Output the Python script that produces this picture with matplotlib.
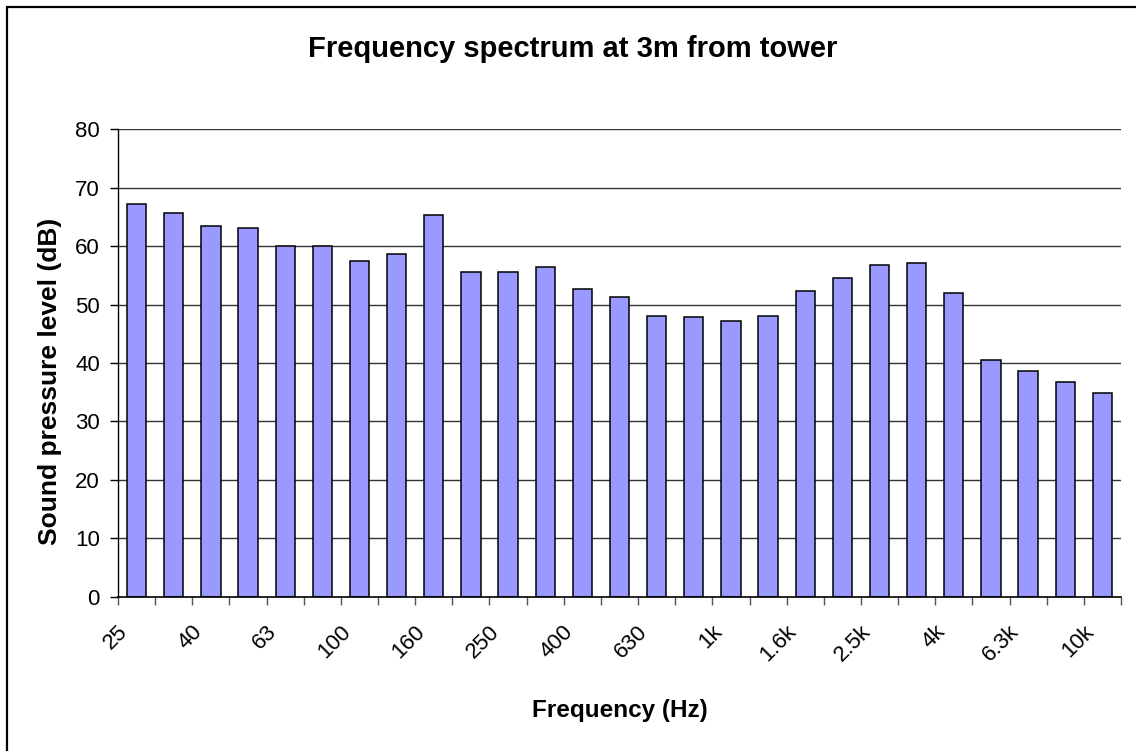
"""
Frequency spectrum bar chart, measured 3 m from the tower.
"""

import matplotlib
matplotlib.use("Agg")
import matplotlib.pyplot as plt
import matplotlib.transforms as mtransforms
import numpy as np
from matplotlib.patches import Rectangle


# One-third octave band centre frequencies
bands = ["25", "31.5", "40", "50", "63", "80", "100", "125", "160", "200",
         "250", "315", "400", "500", "630", "800", "1k", "1.25k", "1.6k",
         "2k", "2.5k", "3.15k", "4k", "5k", "6.3k", "8k", "10k"]

# Sound pressure level per band (dB)
levels = [67.2, 65.6, 63.5, 63.1, 60.0, 60.0, 57.4, 58.7, 65.4, 55.5,
          55.5, 56.5, 52.6, 51.3, 48.1, 47.8, 47.2, 48.1, 52.3, 54.5,
          56.7, 57.1, 52.0, 40.5, 38.6, 36.8, 34.8]

plt.rcParams['font.family'] = ['Liberation Sans', 'DejaVu Sans']

W, H = 1136, 751
fig = plt.figure(figsize=(W / 100, H / 100), dpi=100)

# Axes placed in pixel terms of the reference
left, right, top, bottom = 118, 1121, 129.3, 596.7
ax = fig.add_axes([left / W, 1 - bottom / H, (right - left) / W, (bottom - top) / H])

x = np.arange(len(bands))
ax.bar(x, levels, width=0.52, color="#9999FF", edgecolor="black",
       linewidth=1.1, zorder=3)

ax.set_xlim(-0.5, len(bands) - 0.5)
ax.set_ylim(0, 80)
ax.set_yticks(np.arange(0, 81, 10))

# Horizontal gridlines (not at zero, the axis line sits there)
for yv in range(10, 81, 10):
    ax.axhline(yv, color="#333333", linewidth=1.0, zorder=1)

# Category boundary tick marks, labels on every other category
ax.set_xticks(np.arange(-0.5, len(bands), 1.0), minor=True)
ax.set_xticks(x[::2])
ax.set_xticklabels(bands[::2], rotation=45, ha="right", va="center",
                   rotation_mode="anchor")
ax.tick_params(axis="x", which="major", length=0, pad=0, labelsize=16)
ax.tick_params(axis="x", which="minor", length=6, width=1.0, color="#555555")
ax.tick_params(axis="y", length=6, width=1.0, labelsize=16, pad=7)

# shift rotated labels so their ends sit just left of and below the bar
shift = mtransforms.ScaledTranslation(-12 / 100, -32 / 100, fig.dpi_scale_trans)
for lab in ax.get_xticklabels():
    lab.set_transform(lab.get_transform() + shift)

for side in ("top", "right"):
    ax.spines[side].set_visible(False)
ax.spines["left"].set_linewidth(1.0)
ax.spines["bottom"].set_linewidth(1.2)
ax.spines["left"].set_zorder(4)
ax.spines["bottom"].set_zorder(4)

fig.text(573 / W, 1 - 49 / H, "Frequency spectrum at 3m from tower",
         ha="center", va="center", fontsize=21, fontweight="bold")
fig.text(620 / W, 1 - 710 / H, "Frequency (Hz)",
         ha="center", va="center", fontsize=17.5, fontweight="bold")
fig.text(50 / W, 1 - 381 / H, "Sound pressure level (dB)",
         ha="center", va="center", rotation=90, fontsize=19, fontweight="bold")

# Outer chart border (only left and top edges fall inside the picture)
fig.patches.append(Rectangle((7 / W, -0.1), 1.2, 1.1 - 7 / H,
                             transform=fig.transFigure, fill=False,
                             edgecolor="black", linewidth=1.6))

fig.savefig("out.png", dpi=100)
